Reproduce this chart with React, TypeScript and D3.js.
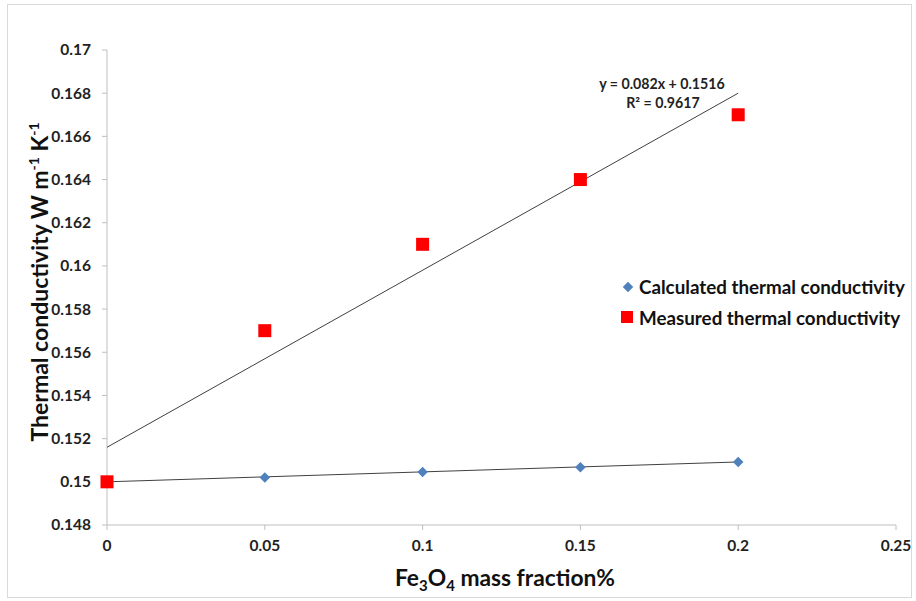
import React from "react";
import * as d3 from "d3";

const xValues = [0, 0.05, 0.1, 0.15, 0.2];
const calculated = [0.15, 0.1502, 0.15045, 0.15068, 0.15092];
const measured = [0.15, 0.157, 0.161, 0.164, 0.167];
const xTicks = [0, 0.05, 0.1, 0.15, 0.2, 0.25];
const yTicks = [0.148, 0.15, 0.152, 0.154, 0.156, 0.158, 0.16, 0.162, 0.164, 0.166, 0.168, 0.17];
const measuredFit = { slope: 0.082, intercept: 0.1516 };
const calcFit = { slope: 0.0046, intercept: 0.15 };
const seriesNames = ["Calculated thermal conductivity", "Measured thermal conductivity"];

const W = 916, H = 601;
const FONT = "Lato, 'Open Sans', sans-serif";

export default function App() {
  const x = d3.scaleLinear().domain([0, 0.25]).range([107, 896]);
  const y = d3.scaleLinear().domain([0.148, 0.17]).range([525, 50]);
  const axisColor = "#bfbfbf";
  const diamond = d3.symbol().type(d3.symbolDiamond2).size(70)();
  const fitLine = (f: { slope: number; intercept: number }) =>
    d3.line<number>().x((v) => x(v)).y((v) => y(f.slope * v + f.intercept))([0, 0.2]) || "";

  return (
    <svg width={W} height={H} style={{ position: "absolute", left: 0, top: 0, background: "#fff" }}>
      <rect x={7.5} y={4.5} width={904} height={593} fill="#fff" stroke="#d9d9d9" />
      {/* axes */}
      <line x1={x(0)} x2={x(0)} y1={y(0.17)} y2={y(0.148)} stroke={axisColor} />
      <line x1={x(0)} x2={x(0.25)} y1={y(0.148)} y2={y(0.148)} stroke={axisColor} />
      {yTicks.map((t) => (
        <g key={"y" + t}>
          <line x1={x(0) - 5} x2={x(0)} y1={y(t)} y2={y(t)} stroke={axisColor} />
          <text x={91} y={y(t)} dy="0.35em" textAnchor="end" fontFamily={FONT} fontWeight="bold" fontSize={15.5} fill="#222">
            {String(t)}
          </text>
        </g>
      ))}
      {xTicks.map((t) => (
        <g key={"x" + t}>
          <line x1={x(t)} x2={x(t)} y1={y(0.148)} y2={y(0.148) + 5} stroke={axisColor} />
          <text x={x(t)} y={546} dy="0.35em" textAnchor="middle" fontFamily={FONT} fontWeight="bold" fontSize={15.5} fill="#222">
            {String(t)}
          </text>
        </g>
      ))}
      {/* trendlines */}
      <path d={fitLine(measuredFit)} stroke="#404040" strokeWidth={1} fill="none" />
      <path d={fitLine(calcFit)} stroke="#404040" strokeWidth={1} fill="none" />
      {/* markers */}
      {xValues.map((v, i) => (
        <path key={"c" + i} d={diamond} transform={`translate(${x(v)},${y(calculated[i])})`} fill="#4F81BD" />
      ))}
      {xValues.map((v, i) => (
        <rect key={"m" + i} x={x(v) - 6.5} y={y(measured[i]) - 6.5} width={13} height={13} fill="#FF0000" />
      ))}
      {/* trendline label */}
      <text x={662} y={84} dy="0.35em" textAnchor="middle" fontFamily={FONT} fontWeight="bold" fontSize={14.2} fill="#222">
        y = 0.082x + 0.1516
      </text>
      <text x={663} y={103} dy="0.35em" textAnchor="middle" fontFamily={FONT} fontWeight="bold" fontSize={14.2} fill="#222">
        R² = 0.9617
      </text>
      {/* legend */}
      <path d={diamond} transform="translate(628,287)" fill="#4F81BD" />
      <text x={639} y={287} dy="0.35em" fontFamily={FONT} fontWeight="bold" fontSize={18.8} fill="#111">
        {seriesNames[0]}
      </text>
      <rect x={621} y={311} width={12} height={12} fill="#FF0000" />
      <text x={639} y={318} dy="0.35em" fontFamily={FONT} fontWeight="bold" fontSize={18.8} fill="#111">
        {seriesNames[1]}
      </text>
      {/* axis titles */}
      <text transform="translate(40,282) rotate(-90)" textAnchor="middle" dy="0.35em" fontFamily={FONT} fontWeight="bold" fontSize={23} fill="#111">
        Thermal conductivity W m<tspan dy="-9" fontSize={14}>-1</tspan><tspan dy="9"> K</tspan><tspan dy="-9" fontSize={14}>-1</tspan>
      </text>
      <text x={505} y={578} textAnchor="middle" dy="0.35em" fontFamily={FONT} fontWeight="bold" fontSize={22.8} fill="#111">
        Fe<tspan dy="5" fontSize={15}>3</tspan><tspan dy="-5">O</tspan><tspan dy="5" fontSize={15}>4</tspan><tspan dy="-5"> mass fraction%</tspan>
      </text>
    </svg>
  );
}
